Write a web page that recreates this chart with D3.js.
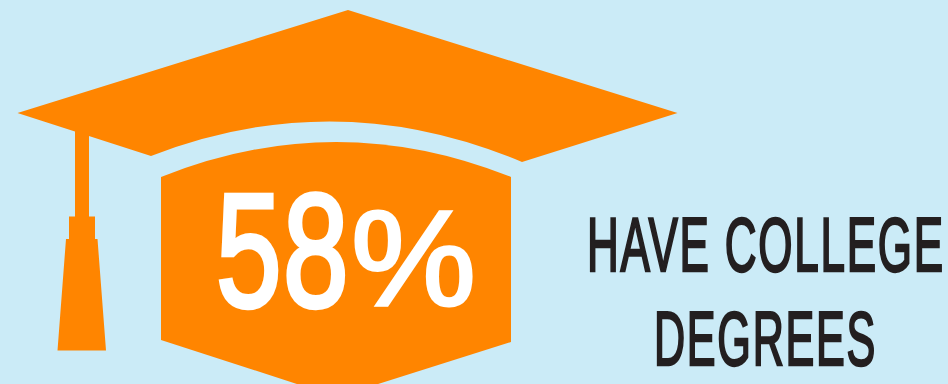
<!DOCTYPE html>
<html>
<head>
<meta charset="utf-8">
<script src="https://cdn.jsdelivr.net/npm/d3@7"></script>
<style>
html, body { margin: 0; padding: 0; background: #cbebf7; overflow: hidden; }
svg { display: block; }
text { font-family: "Liberation Sans", sans-serif; }
</style>
</head>
<body>
<script>
// Statistic shown on the card
const shareValue = [58];
const shareUnit = ["%"];
const captionLines = ["HAVE COLLEGE", "DEGREES"];

const W = 948, H = 384;
const ORANGE = "#ff8500", INK = "#231f20";

const svg = d3.select("body").append("svg").attr("width", W).attr("height", H);
svg.append("rect").attr("width", W).attr("height", H).attr("fill", "#cbebf7");

// Mortarboard
const board = d3.path();
board.moveTo(348, 10);
board.lineTo(677.5, 113);
board.lineTo(522, 162);
board.quadraticCurveTo(337, 84, 151, 156);
board.lineTo(17.5, 113);
board.closePath();
svg.append("path").attr("d", board.toString()).attr("fill", ORANGE);

// Skull cap below the board
const cap = d3.path();
cap.moveTo(161, 177);
cap.quadraticCurveTo(336, 107, 511, 177);
cap.lineTo(511, 342);
cap.lineTo(337, 397);
cap.lineTo(161, 340);
cap.closePath();
svg.append("path").attr("d", cap.toString()).attr("fill", ORANGE);

// Tassel: cord, knot and fringe
const tassel = d3.path();
tassel.moveTo(75, 130);
tassel.lineTo(89, 130);
tassel.lineTo(89, 216.5);
tassel.lineTo(95, 216.5);
tassel.lineTo(95, 239);
tassel.lineTo(97.5, 239);
tassel.lineTo(106, 350.5);
tassel.lineTo(57.5, 350.5);
tassel.lineTo(66, 239);
tassel.lineTo(69, 239);
tassel.lineTo(69, 216.5);
tassel.lineTo(75, 216.5);
tassel.closePath();
svg.append("path").attr("d", tassel.toString()).attr("fill", ORANGE);

// Condensed display text: the face is squeezed horizontally to span x0..x1
function fitted(str, x0, x1, baseline, size, fill, sw, spacing) {
  const t = svg.append("text")
    .text(str)
    .attr("font-size", size)
    .attr("letter-spacing", spacing)
    .attr("fill", fill)
    .attr("stroke", fill)
    .attr("stroke-width", sw)
    .attr("vector-effect", "non-scaling-stroke");
  const sx = (x1 - x0) / t.node().getComputedTextLength();
  t.attr("transform", `translate(${x0},${baseline}) scale(${sx},1)`);
  return t;
}

fitted(String(shareValue[0]), 216, 350, 305.5, 162, "#ffffff", 4, 2);
fitted(shareUnit[0], 351, 476, 305, 136, "#ffffff", 3, 0);

// Caption
fitted(captionLines[0], 587, 945, 271, 76, INK, 2, 3);
fitted(captionLines[1], 654, 877, 365, 76, INK, 2, 3);
</script>
</body>
</html>
